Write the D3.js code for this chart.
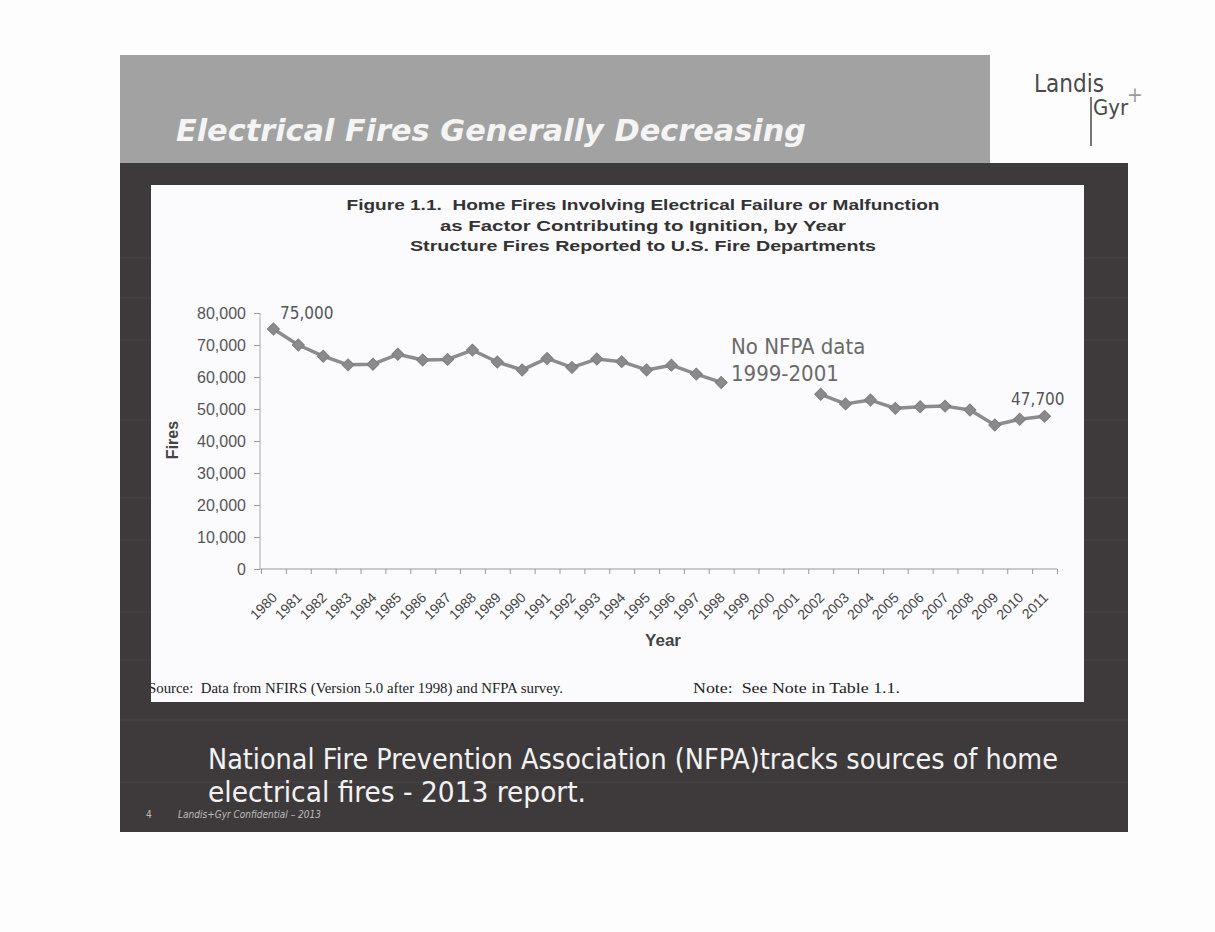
<!DOCTYPE html>
<html>
<head>
<meta charset="utf-8">
<script src="https://cdn.jsdelivr.net/npm/d3@7"></script>
<style>
  body { margin: 0; background: #fdfdfd; }
  svg { display: block; }
</style>
</head>
<body>
<div id="chart"></div>
<script>
// Chart data
var years = ["1980","1981","1982","1983","1984","1985","1986","1987","1988","1989",
             "1990","1991","1992","1993","1994","1995","1996","1997","1998","1999",
             "2000","2001","2002","2003","2004","2005","2006","2007","2008","2009",
             "2010","2011"];
var fires = [75000, 70000, 66500, 63800, 64000, 67100, 65300, 65500, 68400, 64700,
             62200, 65800, 63000, 65600, 64800, 62200, 63700, 60900, 58300, null,
             null, null, 54600, 51600, 52800, 50200, 50700, 50900, 49700, 45000,
             46800, 47700];
var yTicks = [0, 10000, 20000, 30000, 40000, 50000, 60000, 70000, 80000];
var titleLines = ["Figure 1.1.\u00a0 Home Fires Involving Electrical Failure or Malfunction",
                  "as Factor Contributing to Ignition, by Year",
                  "Structure Fires Reported to U.S. Fire Departments"];
var titleWidths = [593, 406, 466];

var W = 1215, H = 932;
var svg = d3.select("#chart").append("svg")
    .attr("width", W)
    .attr("height", H);

// ---- slide frame ----
svg.append("rect").attr("x", 0).attr("y", 0).attr("width", W).attr("height", H).attr("fill", "#fdfdfd");
// grey header band
svg.append("rect").attr("x", 120).attr("y", 55).attr("width", 870).attr("height", 108).attr("fill", "#a2a2a2");
// dark body
svg.append("rect").attr("x", 120).attr("y", 163).attr("width", 1008).attr("height", 669).attr("fill", "#3e3a3b");

// faint scan lines like the scanned copy
[258, 298, 340, 420, 498, 540, 612, 660, 720, 782].forEach(function(y) {
    svg.append("line").attr("x1", 120).attr("x2", 1128).attr("y1", y).attr("y2", y)
        .attr("stroke", "#ffffff").attr("stroke-opacity", 0.06);
});

svg.append("text")
    .attr("x", 176).attr("y", 141)
    .attr("textLength", 630).attr("lengthAdjust", "spacingAndGlyphs")
    .style("font-family", "'DejaVu Sans Condensed', 'DejaVu Sans', sans-serif")
    .style("font-weight", "bold").style("font-style", "italic")
    .style("font-size", "31px").attr("fill", "#f4f4f4")
    .text("Electrical Fires Generally Decreasing");

// logo
var logo = svg.append("g").style("font-family", "'DejaVu Sans Condensed', 'DejaVu Sans', sans-serif").attr("fill", "#4a4a4a");
logo.append("text").attr("x", 1034).attr("y", 92).style("font-size", "24px").text("Landis");
logo.append("line").attr("x1", 1091).attr("x2", 1091).attr("y1", 97).attr("y2", 146).attr("stroke", "#4a4a4a").attr("stroke-width", 1.5);
logo.append("text").attr("x", 1093).attr("y", 115).style("font-size", "22px").text("Gyr");
logo.append("text").attr("x", 1127).attr("y", 102).style("font-size", "21px").attr("fill", "#9a9a9a").text("+");

// white figure panel
svg.append("rect").attr("x", 151).attr("y", 185).attr("width", 933).attr("height", 517).attr("fill", "#fbfbfd");
svg.append("clipPath").attr("id", "panel")
    .append("rect").attr("x", 151).attr("y", 185).attr("width", 933).attr("height", 517);

// ---- chart ----
var x = d3.scaleBand().domain(years).range([261, 1057]).paddingInner(0).paddingOuter(0);
var y = d3.scaleLinear().domain([0, 80000]).range([569, 313]);

// title
titleLines.forEach(function(t, i) {
    svg.append("text")
        .attr("x", 643).attr("y", 210 + i * 20.5)
        .attr("text-anchor", "middle")
        .attr("textLength", titleWidths[i]).attr("lengthAdjust", "spacingAndGlyphs")
        .style("font-family", "'Liberation Sans', Arial, sans-serif")
        .style("font-weight", "bold").style("font-size", "15px").attr("fill", "#333")
        .text(t);
});

// y axis
var yAxis = svg.append("g")
    .attr("transform", "translate(260,0)")
    .call(d3.axisLeft(y).tickValues(yTicks).tickSize(6).tickPadding(8).tickFormat(d3.format(",")));
yAxis.selectAll("text")
    .style("font-family", "'Liberation Sans', Arial, sans-serif")
    .style("font-size", "16px").attr("fill", "#555");
yAxis.selectAll("line").attr("stroke", "#999");
yAxis.select(".domain").attr("stroke", "#aaa").attr("d", "M0,313V569");

// x axis: ticks at the category boundaries
var xEdge = d3.scaleLinear().domain([0, years.length]).range([261, 1057]);
var xAxis = svg.append("g")
    .attr("transform", "translate(0,569)")
    .call(d3.axisBottom(xEdge).tickValues(d3.range(years.length + 1)).tickSize(5).tickFormat(""));
xAxis.selectAll("line").attr("stroke", "#999");
xAxis.select(".domain").attr("stroke", "#999").attr("d", "M260,0H1057");

svg.append("g").selectAll("text")
    .data(years)
    .enter().append("text")
    .attr("transform", function(d) {
        return "translate(" + (x(d) + x.bandwidth() / 2 + 1) + ",595) rotate(-45)";
    })
    .attr("text-anchor", "end")
    .attr("dy", "0.35em")
    .style("font-family", "'Liberation Sans', Arial, sans-serif")
    .style("font-size", "14px").attr("fill", "#444")
    .text(function(d) { return d; });

// axis titles
svg.append("text")
    .attr("transform", "translate(178,440) rotate(-90)")
    .attr("text-anchor", "middle")
    .style("font-family", "'Liberation Sans', Arial, sans-serif")
    .style("font-weight", "bold").style("font-size", "16px").attr("fill", "#444")
    .text("Fires");
svg.append("text")
    .attr("x", 663).attr("y", 646)
    .attr("text-anchor", "middle")
    .style("font-family", "'Liberation Sans', Arial, sans-serif")
    .style("font-weight", "bold").style("font-size", "17px").attr("fill", "#444")
    .text("Year");

// line with a gap for the missing years
var line = d3.line()
    .defined(function(d) { return d.v !== null; })
    .x(function(d) { return x(d.year) + x.bandwidth() / 2; })
    .y(function(d) { return y(d.v); });
var points = years.map(function(yr, i) { return { year: yr, v: fires[i] }; });

svg.append("path")
    .datum(points)
    .attr("d", line)
    .attr("fill", "none")
    .attr("stroke", "#8c8c8c")
    .attr("stroke-width", 3.5)
    .attr("stroke-linejoin", "round");

svg.append("g").selectAll("path")
    .data(points.filter(function(d) { return d.v !== null; }))
    .enter().append("path")
    .attr("d", d3.symbol().type(d3.symbolSquare).size(72))
    .attr("transform", function(d) {
        return "translate(" + (x(d.year) + x.bandwidth() / 2) + "," + y(d.v) + ") rotate(45)";
    })
    .attr("fill", "#8a8a8a")
    .attr("stroke", "#7e7e7e")
    .attr("stroke-width", 1);

// annotations
var annFont = "'DejaVu Sans Condensed', 'DejaVu Sans', sans-serif";
svg.append("text")
    .attr("x", 280).attr("y", 319)
    .style("font-family", annFont).style("font-size", "17px").attr("fill", "#555")
    .text(d3.format(",")(fires[0]));
svg.append("text")
    .attr("x", x("2011") + x.bandwidth() / 2 + 20).attr("y", 405)
    .attr("text-anchor", "end")
    .style("font-family", annFont).style("font-size", "17px").attr("fill", "#555")
    .text(d3.format(",")(fires[fires.length - 1]));
var note = svg.append("text")
    .style("font-family", annFont).style("font-size", "22px").attr("fill", "#6a6a6a");
note.append("tspan").attr("x", 731).attr("y", 354).text("No NFPA data");
note.append("tspan").attr("x", 731).attr("y", 381).text("1999-2001");

// source line
var src = svg.append("g")
    .attr("clip-path", "url(#panel)")
    .style("font-family", "'Liberation Serif', 'Times New Roman', serif")
    .style("font-size", "14px").attr("fill", "#222");
src.append("text").attr("x", 148).attr("y", 693)
    .attr("textLength", 415).attr("lengthAdjust", "spacingAndGlyphs")
    .text("Source:\u00a0 Data from NFIRS (Version 5.0 after 1998) and NFPA survey.");
src.append("text").attr("x", 693).attr("y", 693)
    .attr("textLength", 207).attr("lengthAdjust", "spacingAndGlyphs")
    .text("Note:\u00a0 See Note in Table 1.1.");

// body text below the figure
var body = svg.append("g")
    .style("font-family", "'DejaVu Sans Condensed', 'DejaVu Sans', sans-serif")
    .style("font-size", "28px").attr("fill", "#f2f2f2");
body.append("text").attr("x", 208).attr("y", 769)
    .attr("textLength", 850).attr("lengthAdjust", "spacingAndGlyphs")
    .text("National Fire Prevention Association (NFPA)tracks sources of home");
body.append("text").attr("x", 208).attr("y", 802)
    .attr("textLength", 378).attr("lengthAdjust", "spacingAndGlyphs")
    .text("electrical fires - 2013 report.");

// footer
var foot = svg.append("g")
    .style("font-family", "'DejaVu Sans Condensed', 'DejaVu Sans', sans-serif")
    .style("font-size", "10px").style("font-style", "italic").attr("fill", "#bdbdbd");
foot.append("text").attr("x", 146).attr("y", 818).style("font-style", "normal").text("4");
foot.append("text").attr("x", 178).attr("y", 818).text("Landis+Gyr Confidential \u2013 2013");
</script>
</body>
</html>
